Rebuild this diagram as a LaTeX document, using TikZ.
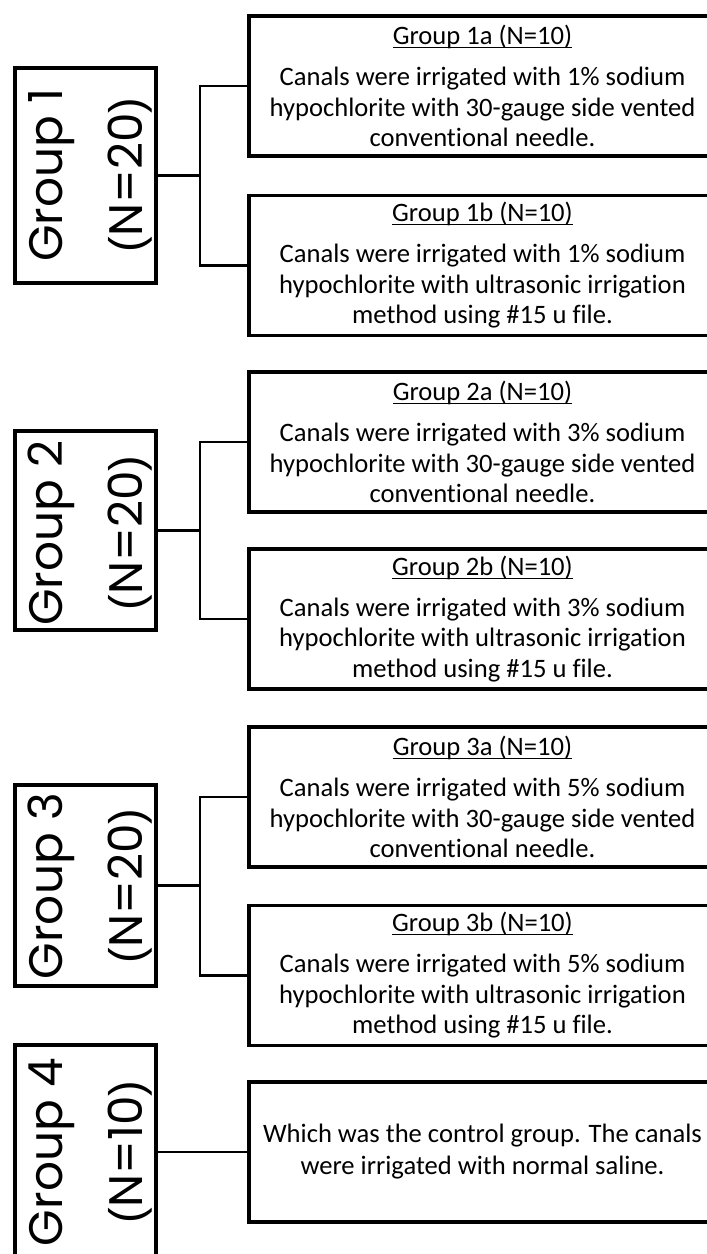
\documentclass[tikz,border=0pt]{standalone}
\usepackage{fontspec}
\setmainfont{Carlito}[Ligatures=NoCommon]
\newfontfamily\grpfont{Poppins}
\newfontfamily\parfont{Liberation Sans}
\newcommand\myul[1]{\setbox0\hbox{#1}\rlap{\rule[-3.5pt]{\wd0}{1.3pt}}\box0}
\newcommand\lpar{{\parfont(}}
\newcommand\rpar{{\parfont)}}
\tikzset{
  grpbox/.style={draw=black, line width=3.5pt, minimum width=141pt, inner sep=0pt, fill=white},
  txtbox/.style={draw=black, line width=3.5pt, minimum width=467pt, minimum height=140pt, inner sep=0pt, align=center,
    font=\fontsize{26.6}{30.5}\selectfont},
  grplabel/.style={rotate=90, anchor=base, inner sep=0pt, font=\grpfont\fontsize{47}{47}\selectfont},
  conn/.style={draw=black, line width=2.2pt},
}
\begin{document}
\begin{tikzpicture}[x=1pt,y=1pt]
\fill[white] (0,0) rectangle (707,-1254);
\clip (0,0) rectangle (707,-1254);
% group boxes
\node[grpbox, minimum height=215pt] (g1) at (85.5,-175.5) {};
\node[grpbox, minimum height=199pt] (g2) at (85.5,-530.5) {};
\node[grpbox, minimum height=201pt] (g3) at (85.5,-885.5) {};
\node[grpbox, minimum height=214pt] (g4) at (85.5,-1152) {};
% group labels
\node[grplabel] (g1a) at (62,-175) {Group 1};
\node[grplabel] (g1b) at (142,-175) {\lpar N=20\rpar};
\node[grplabel] (g2a) at (62,-533) {Group 2};
\node[grplabel] (g2b) at (142,-533) {\lpar N=20\rpar};
\node[grplabel] (g3a) at (62,-886) {Group 3};
\node[grplabel] (g3b) at (142,-886) {\lpar N=20\rpar};
\node[grplabel] (g4a) at (62,-1152) {Group 4};
\node[grplabel] (g4b) at (142,-1152) {\lpar N=10\rpar};
% text boxes
\node[txtbox] (t1a) at (482.5,-86) {\myul{Group 1a (N=10)}\\[10.5pt]Canals were irrigated with 1\% sodium\\hypochlorite with 30-gauge side vented\\conventional needle.};
\node[txtbox] (t1b) at (482.5,-265.5) {\myul{Group 1b (N=10)}\\[10.5pt]Canals were irrigated with 1\% sodium\\hypochlorite with ultrasonic irrigation\\method using \#15 u file.};
\node[txtbox] (t2a) at (482.5,-442) {\myul{Group 2a (N=10)}\\[10.5pt]Canals were irrigated with 3\% sodium\\hypochlorite with 30-gauge side vented\\conventional needle.};
\node[txtbox] (t2b) at (482.5,-619) {\myul{Group 2b (N=10)}\\[10.5pt]Canals were irrigated with 3\% sodium\\hypochlorite with ultrasonic irrigation\\method using \#15 u file.};
\node[txtbox] (t3a) at (482.5,-797) {\myul{Group 3a (N=10)}\\[10.5pt]Canals were irrigated with 5\% sodium\\hypochlorite with 30-gauge side vented\\conventional needle.};
\node[txtbox] (t3b) at (482.5,-975.5) {\myul{Group 3b (N=10)}\\[10.5pt]Canals were irrigated with 5\% sodium\\hypochlorite with ultrasonic irrigation\\method using \#15 u file.};
\node[txtbox, font=\fontsize{26.6}{32}\selectfont] (t4) at (482.5,-1152) {Which was the control group. The canals\\were irrigated with normal saline.};
% connectors
\draw[conn] (g1.east) -| ([xshift=-47pt]t1a.west) -- (t1a.west);
\draw[conn] (g1.east) -| ([xshift=-47pt]t1b.west) -- (t1b.west);
\draw[conn] (g2.east) -| ([xshift=-47pt]t2a.west) -- (t2a.west);
\draw[conn] (g2.east) -| ([xshift=-47pt]t2b.west) -- (t2b.west);
\draw[conn] (g3.east) -| ([xshift=-47pt]t3a.west) -- (t3a.west);
\draw[conn] (g3.east) -| ([xshift=-47pt]t3b.west) -- (t3b.west);
\draw[conn] (g4.east) -- (g4.east -| t4.west);
\end{tikzpicture}
\end{document}
